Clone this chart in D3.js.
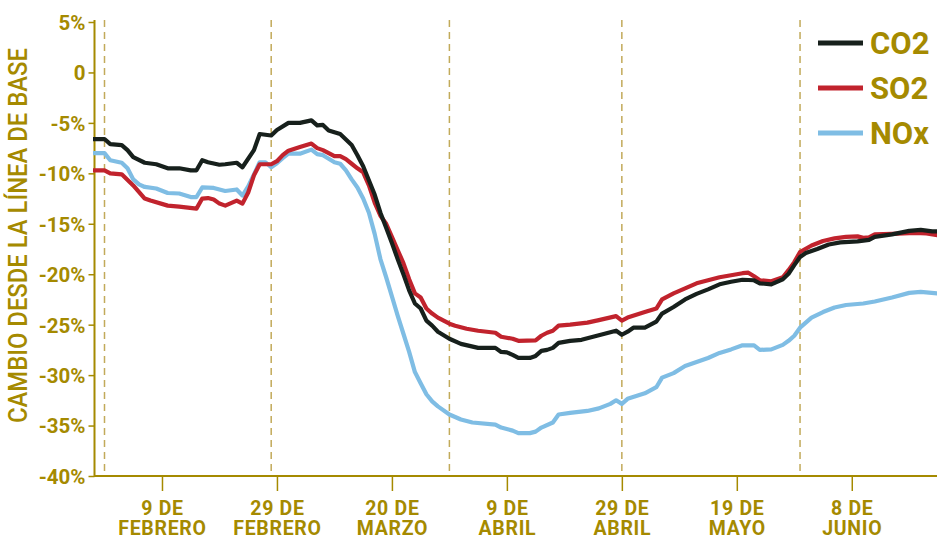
<!DOCTYPE html>
<html>
<head>
<meta charset="utf-8">
<script src="https://cdn.jsdelivr.net/npm/d3@7"></script>
<style>
  html, body { margin: 0; padding: 0; background: #ffffff; }
  svg { display: block; }
  text { font-family: Roboto, "Noto Sans", sans-serif; }
</style>
</head>
<body>
<svg id="chart" width="937" height="536"></svg>
<script>
// Daily emission change versus baseline (%), 2020
const co2 = [
  ["1-28", -6.6], ["1-30", -6.6], ["1-31", -7.1], ["2-2", -7.2], ["2-3", -7.7], ["2-4", -8.4],
  ["2-6", -8.95], ["2-8", -9.1], ["2-10", -9.5], ["2-12", -9.5], ["2-14", -9.7], ["2-15", -9.7],
  ["2-16", -8.7], ["2-17", -8.9], ["2-19", -9.15], ["2-20", -9.1], ["2-22", -8.95], ["2-23", -9.4],
  ["2-25", -7.7], ["2-26", -6.1], ["2-28", -6.25], ["2-29", -5.7], ["3-2", -5.0], ["3-4", -5.0],
  ["3-6", -4.75], ["3-7", -5.25], ["3-8", -5.2], ["3-9", -5.75], ["3-11", -6.1], ["3-13", -7.2],
  ["3-14", -8.2], ["3-15", -9.3], ["3-17", -12.1], ["3-18", -13.9], ["3-19", -15.4], ["3-20", -16.9],
  ["3-21", -18.5], ["3-22", -20.0], ["3-23", -21.6], ["3-24", -22.9], ["3-25", -23.4], ["3-26", -24.6],
  ["3-27", -25.1], ["3-28", -25.7], ["3-30", -26.4], ["4-1", -26.9], ["4-4", -27.3], ["4-7", -27.3],
  ["4-8", -27.7], ["4-9", -27.75], ["4-10", -28.0], ["4-11", -28.3], ["4-13", -28.3], ["4-14", -28.1],
  ["4-15", -27.6], ["4-16", -27.5], ["4-17", -27.3], ["4-18", -26.8], ["4-20", -26.6], ["4-22", -26.5],
  ["4-24", -26.2], ["4-26", -25.9], ["4-28", -25.6], ["4-29", -26.0], ["4-30", -25.7], ["5-1", -25.3],
  ["5-3", -25.3], ["5-5", -24.7], ["5-6", -23.9], ["5-8", -23.25], ["5-10", -22.5], ["5-12", -21.95],
  ["5-14", -21.5], ["5-16", -21.0], ["5-18", -20.75], ["5-20", -20.55], ["5-22", -20.6], ["5-23", -20.9],
  ["5-25", -21.0], ["5-27", -20.5], ["5-28", -19.95], ["5-29", -19.1], ["5-30", -18.3], ["5-31", -17.9],
  ["6-2", -17.5], ["6-4", -17.05], ["6-6", -16.85], ["6-9", -16.75], ["6-11", -16.6], ["6-12", -16.3],
  ["6-15", -16.05], ["6-18", -15.7], ["6-20", -15.6], ["6-22", -15.75], ["6-23", -15.75]
];

const so2 = [
  ["1-28", -9.7], ["1-30", -9.7], ["1-31", -10.0], ["2-2", -10.1], ["2-4", -11.2], ["2-6", -12.5],
  ["2-7", -12.7], ["2-10", -13.2], ["2-12", -13.3], ["2-15", -13.5], ["2-16", -12.5], ["2-17", -12.45],
  ["2-18", -12.6], ["2-19", -13.0], ["2-20", -13.2], ["2-22", -12.7], ["2-23", -13.0], ["2-24", -11.9],
  ["2-25", -10.2], ["2-26", -9.1], ["2-28", -9.1], ["2-29", -8.8], ["3-1", -8.2], ["3-2", -7.75],
  ["3-4", -7.4], ["3-6", -7.05], ["3-7", -7.5], ["3-8", -7.7], ["3-10", -8.3], ["3-11", -8.3],
  ["3-12", -8.6], ["3-13", -9.05], ["3-14", -9.5], ["3-15", -9.9], ["3-16", -11.2], ["3-17", -12.9],
  ["3-18", -14.2], ["3-19", -15.0], ["3-20", -16.3], ["3-21", -17.6], ["3-22", -18.9], ["3-23", -20.5],
  ["3-24", -21.9], ["3-25", -22.3], ["3-26", -23.4], ["3-27", -23.9], ["3-28", -24.3], ["3-29", -24.6],
  ["3-30", -24.9], ["3-31", -25.1], ["4-2", -25.4], ["4-4", -25.6], ["4-7", -25.8], ["4-8", -26.2],
  ["4-10", -26.4], ["4-11", -26.6], ["4-14", -26.55], ["4-15", -26.1], ["4-16", -25.8], ["4-17", -25.6],
  ["4-18", -25.1], ["4-20", -25.0], ["4-23", -24.8], ["4-25", -24.55], ["4-28", -24.15], ["4-29", -24.6],
  ["4-30", -24.3], ["5-3", -23.75], ["5-5", -23.4], ["5-6", -22.5], ["5-8", -21.9], ["5-10", -21.4],
  ["5-12", -20.9], ["5-14", -20.6], ["5-16", -20.3], ["5-18", -20.1], ["5-20", -19.9], ["5-21", -19.85],
  ["5-22", -20.2], ["5-23", -20.6], ["5-25", -20.7], ["5-27", -20.3], ["5-28", -19.6], ["5-29", -18.8],
  ["5-30", -17.8], ["6-1", -17.15], ["6-3", -16.7], ["6-5", -16.45], ["6-7", -16.3], ["6-9", -16.25],
  ["6-10", -16.4], ["6-11", -16.35], ["6-12", -16.05], ["6-15", -16.0], ["6-19", -15.9], ["6-21", -15.95],
  ["6-23", -16.15]
];

const nox = [
  ["1-28", -8.0], ["1-30", -8.0], ["1-31", -8.7], ["2-2", -8.95], ["2-3", -9.5], ["2-4", -10.6],
  ["2-5", -11.1], ["2-6", -11.35], ["2-8", -11.5], ["2-10", -11.95], ["2-12", -12.0], ["2-14", -12.35],
  ["2-15", -12.35], ["2-16", -11.4], ["2-18", -11.45], ["2-20", -11.75], ["2-22", -11.6], ["2-23", -12.2],
  ["2-24", -11.3], ["2-25", -10.1], ["2-26", -8.9], ["2-27", -8.9], ["2-28", -9.4], ["2-29", -9.0],
  ["3-1", -8.5], ["3-2", -8.05], ["3-4", -8.05], ["3-6", -7.65], ["3-7", -8.1], ["3-8", -8.2],
  ["3-10", -8.9], ["3-11", -9.05], ["3-12", -9.7], ["3-13", -10.6], ["3-14", -11.4], ["3-15", -12.5],
  ["3-16", -13.9], ["3-17", -16.0], ["3-18", -18.5], ["3-19", -20.3], ["3-20", -22.2], ["3-21", -24.1],
  ["3-22", -25.9], ["3-23", -27.7], ["3-24", -29.7], ["3-25", -30.8], ["3-26", -31.9], ["3-27", -32.6],
  ["3-28", -33.1], ["3-30", -33.9], ["4-1", -34.4], ["4-3", -34.7], ["4-7", -34.9], ["4-8", -35.2],
  ["4-10", -35.5], ["4-11", -35.75], ["4-13", -35.75], ["4-14", -35.6], ["4-15", -35.2], ["4-17", -34.7],
  ["4-18", -33.9], ["4-20", -33.75], ["4-23", -33.55], ["4-25", -33.3], ["4-27", -32.85], ["4-28", -32.5],
  ["4-29", -32.85], ["4-30", -32.35], ["5-3", -31.8], ["5-5", -31.2], ["5-6", -30.25], ["5-8", -29.8],
  ["5-10", -29.1], ["5-12", -28.7], ["5-14", -28.3], ["5-16", -27.8], ["5-18", -27.45], ["5-20", -27.05],
  ["5-22", -27.05], ["5-23", -27.5], ["5-25", -27.45], ["5-27", -27.0], ["5-28", -26.6], ["5-29", -26.1],
  ["5-30", -25.3], ["6-1", -24.3], ["6-3", -23.75], ["6-5", -23.3], ["6-7", -23.05], ["6-10", -22.9],
  ["6-12", -22.7], ["6-15", -22.3], ["6-18", -21.85], ["6-20", -21.75], ["6-23", -21.9]
];

const seriesNames = ["CO2", "SO2", "NOx"];
const seriesColors = ["#17201c", "#c1232d", "#7fbde4"];

const xTickDates = ["2-9", "2-29", "3-20", "4-9", "4-29", "5-19", "6-8"];
const xTickLabels = [
  ["9 DE", "FEBRERO"], ["29 DE", "FEBRERO"], ["20 DE", "MARZO"], ["9 DE", "ABRIL"],
  ["29 DE", "ABRIL"], ["19 DE", "MAYO"], ["8 DE", "JUNIO"]
];
const markerDates = ["1-30", "2-28", "3-30", "4-29", "5-30"];
const yTicks = [5, 0, -5, -10, -15, -20, -25, -30, -35, -40];
const yTitle = "CAMBIO DESDE LA LÍNEA DE BASE";

const gold = "#a58a00";
const dashGold = "#c2aa5a";

const parse = d3.utcParse("%Y-%m-%d");
const toDate = s => parse("2020-" + s.split("-").map(p => p.padStart(2, "0")).join("-"));

const svg = d3.select("#chart");

const x = d3.scaleUtc()
  .domain([toDate("1-28"), toDate("6-23")])
  .range([93, 938]);
const y = d3.scaleLinear().domain([-40, 5]).range([476, 22]);

// event markers
svg.append("g").selectAll("line")
  .data(markerDates)
  .join("line")
  .attr("x1", d => x(toDate(d))).attr("x2", d => x(toDate(d)))
  .attr("y1", 20).attr("y2", 476)
  .attr("stroke", dashGold).attr("stroke-width", 1.5)
  .attr("stroke-dasharray", "7,5");

// y axis
const yAxis = d3.axisLeft(y)
  .tickValues(yTicks)
  .tickSize(6)
  .tickPadding(3)
  .tickFormat(d => d === 0 ? "0" : d + "%");
const gy = svg.append("g").attr("transform", "translate(94.5,0)").call(yAxis);
gy.select(".domain").attr("stroke", gold).attr("stroke-width", 2).attr("d", "M0,20V476");
gy.selectAll(".tick line").attr("stroke", gold).attr("stroke-width", 1.5);
gy.selectAll(".tick text")
  .attr("fill", gold).attr("font-size", 20.5).attr("font-weight", 700)
  .attr("font-family", "Roboto, sans-serif").attr("dy", "0.36em");

// x axis with two-line date labels
const xAxis = d3.axisBottom(x)
  .tickValues(xTickDates.map(toDate))
  .tickSize(15)
  .tickFormat("");
const gx = svg.append("g").attr("transform", "translate(0,476)").call(xAxis);
gx.select(".domain").attr("stroke", gold).attr("stroke-width", 2).attr("d", "M94,0H937");
gx.selectAll(".tick line").attr("stroke", gold).attr("stroke-width", 1.5);
gx.selectAll(".tick").each(function (d, i) {
  const tick = d3.select(this);
  xTickLabels[i].forEach((label, j) => {
    tick.append("text")
      .attr("fill", gold).attr("font-size", 19.5).attr("font-weight", 700)
      .attr("font-family", "Roboto, sans-serif")
      .attr("letter-spacing", "0.7px")
      .attr("text-anchor", "middle")
      .attr("x", 0).attr("y", 39 + j * 19.5)
      .text(label);
  });
});

// y axis title
svg.append("text")
  .attr("transform", "translate(27,235.5) rotate(-90)")
  .attr("text-anchor", "middle")
  .attr("fill", gold)
  .attr("font-size", 25)
  .attr("font-weight", 500)
  .attr("textLength", 375)
  .attr("lengthAdjust", "spacingAndGlyphs")
  .text(yTitle);

// series lines
const line = d3.line()
  .x(d => x(toDate(d[0])))
  .y(d => y(d[1]));

const allSeries = [co2, so2, nox];
const lineOrder = [2, 1, 0];
svg.append("g").selectAll("path")
  .data(lineOrder)
  .join("path")
  .attr("d", i => line(allSeries[i]))
  .attr("fill", "none")
  .attr("stroke", i => seriesColors[i])
  .attr("stroke-width", 4.2)
  .attr("stroke-linejoin", "round")
  .attr("stroke-linecap", "butt");

// legend
const legend = svg.append("g").attr("transform", "translate(818,43)");
seriesNames.forEach((name, i) => {
  const g = legend.append("g").attr("transform", `translate(0,${i * 45})`);
  g.append("line").attr("x1", 0).attr("x2", 45).attr("y1", 0).attr("y2", 0)
    .attr("stroke", seriesColors[i]).attr("stroke-width", 5);
  g.append("text").attr("x", 52).attr("y", 11)
    .attr("fill", gold).attr("font-size", 31).attr("font-weight", 700)
    .text(name);
});
</script>
</body>
</html>
